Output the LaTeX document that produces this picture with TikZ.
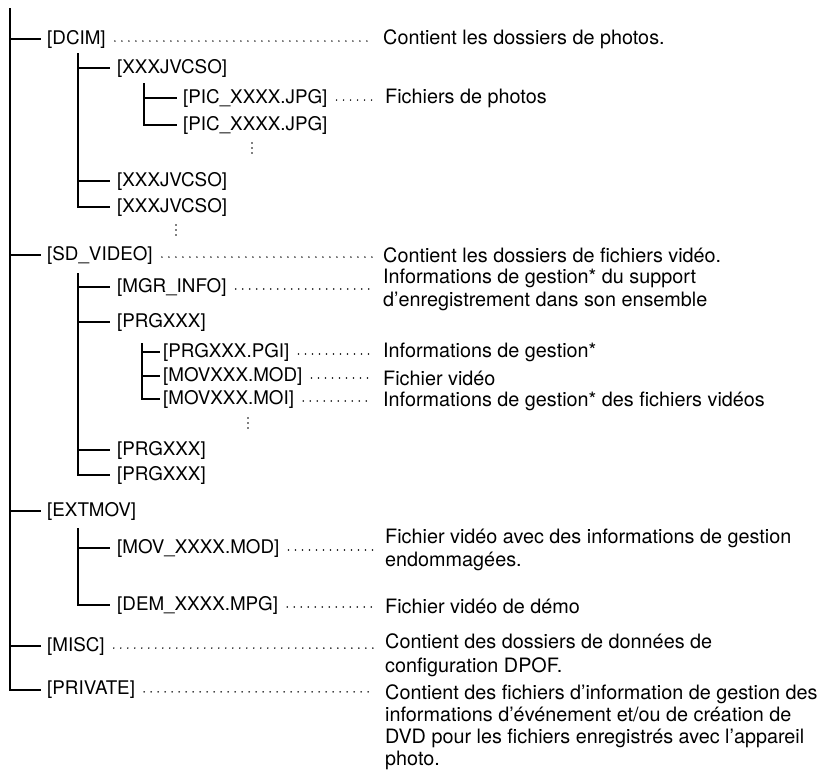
\documentclass[tikz,border=0pt]{standalone}
\usepackage{fontspec}
\setmainfont{TeX Gyre Heros}
\usetikzlibrary{calc}
\tikzset{
  tree/.style={line width=2pt},
  lbl/.style={anchor=west, inner sep=0pt, font=\fontsize{18.8}{22}\selectfont},
  desc/.style={anchor=west, inner sep=0pt, align=left, font=\fontsize{19.8}{23.5}\selectfont},
  desctight/.style={desc, font=\fontsize{19.8}{22}\selectfont},
  leader/.style={line width=1.7pt, line cap=round, dash pattern=on 0pt off 7pt},
}
\newcommand\leaderline[2]{\draw[leader] ($(#1.base east)+(9,-3)$) -- ($(#1.base east -| #2.west)+(-11,-3)$);}
\newcommand\vdotsat[2]{\foreach \dd in {0,5,10} \fill (#1,#2+\dd) circle (0.85pt);}
\begin{document}
\begin{tikzpicture}[x=1pt,y=-1pt]
\useasboundingbox (0,0) rectangle (824,772);
% level 1 labels
\node[lbl] (dcim) at (47,39) {[DCIM]};
\node[lbl] (sd)   at (47,255) {[SD\_VIDEO]};
\node[lbl] (ext)  at (47,511) {[EXTMOV]};
\node[lbl] (misc) at (47,646) {[MISC]};
\node[lbl] (priv) at (47,690) {[PRIVATE]};
% level 2 labels
\node[lbl] (x1) at (117,68) {[XXXJVCSO]};
\node[lbl] (x2) at (117,181) {[XXXJVCSO]};
\node[lbl] (x3) at (117,207) {[XXXJVCSO]};
\node[lbl] (mgr) at (117,287) {[MGR\_INFO]};
\node[lbl] (prg1) at (117,322) {[PRGXXX]};
\node[lbl] (prg2) at (117,450) {[PRGXXX]};
\node[lbl] (prg3) at (117,475) {[PRGXXX]};
\node[lbl] (mov) at (117,548) {[MOV\_XXXX.MOD]};
\node[lbl] (dem) at (117,605) {[DEM\_XXXX.MPG]};
% level 3 labels
\node[lbl] (p1) at (183,98) {[PIC\_XXXX.JPG]};
\node[lbl] (p2) at (183,125) {[PIC\_XXXX.JPG]};
\node[lbl] (pgi) at (163,352) {[PRGXXX.PGI]};
\node[lbl] (mod) at (163,376) {[MOVXXX.MOD]};
\node[lbl] (moi) at (163,399) {[MOVXXX.MOI]};
% descriptions
\node[desc] (ddcim) at (383,39) {Contient les dossiers de photos.};
\node[desc] (dp1) at (385,98) {Fichiers de photos};
\node[desc] (dsd) at (383,255) {Contient les dossiers de fichiers vidéo.};
\node[desc] (dmgr) at (383,290) {Informations de gestion* du support\\d’enregistrement dans son ensemble};
\node[desc] (dpgi) at (383,352) {Informations de gestion*};
\node[desc] (dmod) at (383,378) {Fichier vidéo};
\node[desc] (dmoi) at (383,401) {Informations de gestion* des fichiers vidéos};
\node[desc] (dmov) at (385,550) {Fichier vidéo avec des informations de gestion\\endommagées.};
\node[desc] (ddem) at (385,606) {Fichier vidéo de démo};
\node[desc] (dmisc) at (385,655) {Contient des dossiers de données de\\configuration DPOF.};
\node[desctight] (dpriv) at (385,727) {Contient des fichiers d’information de gestion des\\informations d’événement et/ou de création de\\DVD pour les fichiers enregistrés avec l’appareil\\photo.};
% tree lines
\coordinate (r) at (10,8);
\draw[tree] (r) |- ($(priv.west)+(-6,0)$);
\foreach \n in {dcim,sd,ext,misc} \draw[tree] (r |- \n.west) -- ($(\n.west)+(-6,0)$);
\coordinate (s1) at (78,53);
\draw[tree] (s1) |- ($(x3.west)+(-7,0)$);
\foreach \n in {x1,x2} \draw[tree] (s1 |- \n.west) -- ($(\n.west)+(-7,0)$);
\coordinate (s2) at (78,273);
\draw[tree] (s2) |- ($(prg3.west)+(-7,0)$);
\foreach \n in {mgr,prg1,prg2} \draw[tree] (s2 |- \n.west) -- ($(\n.west)+(-7,0)$);
\coordinate (s3) at (78,528);
\draw[tree] (s3) |- ($(dem.west)+(-7,0)$);
\draw[tree] (s3 |- mov.west) -- ($(mov.west)+(-7,0)$);
\coordinate (t1) at (144,83);
\draw[tree] (t1) |- ($(p2.west)+(-6,0)$);
\draw[tree] (t1 |- p1.west) -- ($(p1.west)+(-6,0)$);
\coordinate (t2) at (142,343);
\draw[tree] (t2) |- ($(moi.west)+(-3,0)$);
\foreach \n in {pgi,mod} \draw[tree] (t2 |- \n.west) -- ($(\n.west)+(-3,0)$);
% leaders
\leaderline{dcim}{ddcim}
\leaderline{p1}{dp1}
\leaderline{sd}{dsd}
\leaderline{mgr}{dmgr}
\leaderline{pgi}{dpgi}
\leaderline{mod}{dmod}
\leaderline{moi}{dmoi}
\leaderline{mov}{dmov}
\leaderline{dem}{ddem}
\leaderline{misc}{dmisc}
\leaderline{priv}{dpriv}
% vertical ellipses
\vdotsat{252}{143}
\vdotsat{176}{225}
\vdotsat{248}{418}
\end{tikzpicture}
\end{document}
